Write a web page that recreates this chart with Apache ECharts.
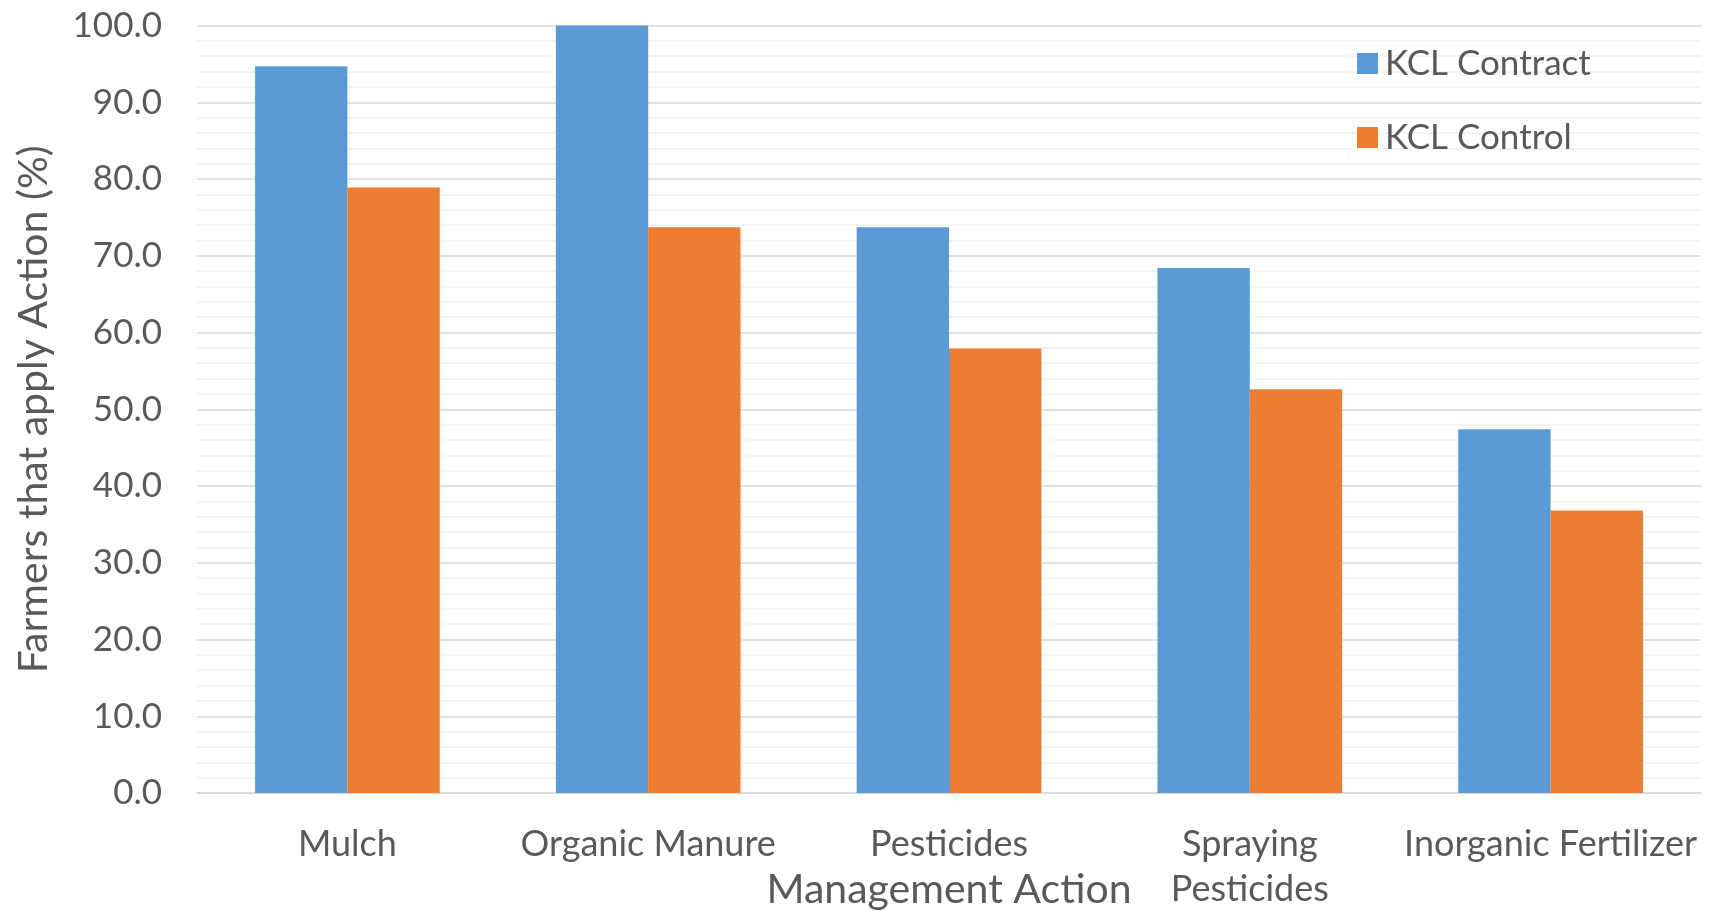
<!DOCTYPE html>
<html>
<head>
<meta charset="utf-8">
<title>Management Action</title>
<script src="https://cdn.jsdelivr.net/npm/echarts@6/dist/echarts.min.js"></script>
<style>
  html, body { margin: 0; padding: 0; background: #ffffff; }
  #chart { width: 1719px; height: 911px; }
</style>
</head>
<body>
<div id="chart"></div>
<script>
// Management actions on the category axis
const categories = ['Mulch', 'Organic Manure', 'Pesticides', 'Spraying\nPesticides', 'Inorganic Fertilizer'];

// Share of farmers (%) applying each action
const contractValues = [94.7, 100.0, 73.7, 68.4, 47.4];
const controlValues = [78.9, 73.7, 57.9, 52.6, 36.8];

const seriesNames = ['KCL Contract', 'KCL Control'];
const seriesColors = ['#5B9BD5', '#ED7D31'];

const FONT = 'Lato, "Open Sans", sans-serif';
const TEXT = '#595959';

const chart = echarts.init(document.getElementById('chart'), null, { renderer: 'canvas' });

chart.setOption({
  animation: false,
  backgroundColor: '#ffffff',
  textStyle: { fontFamily: FONT, color: TEXT },
  grid: { left: 197, right: 18, top: 25.5, bottom: 118, containLabel: false, outerBoundsMode: 'none' },
  legend: {
    orient: 'vertical',
    left: 1352,
    top: 41,
    itemWidth: 21,
    itemHeight: 21,
    itemGap: 39,
    icon: 'rect',
    data: seriesNames,
    textStyle: { fontFamily: FONT, fontSize: 35, color: TEXT, padding: [0, 0, 0, 2] }
  },
  xAxis: {
    type: 'category',
    data: categories,
    name: 'Management Action',
    nameLocation: 'middle',
    nameGap: 76,
    nameMoveOverlap: false,
    nameTextStyle: { fontFamily: FONT, fontSize: 41, color: TEXT },
    axisLine: { show: true, lineStyle: { color: '#d9d9d9', width: 1.5 } },
    axisTick: { show: false },
    axisLabel: {
      interval: 0,
      margin: 29,
      fontFamily: FONT,
      fontSize: 36,
      lineHeight: 45,
      color: TEXT
    },
    splitLine: { show: false }
  },
  yAxis: {
    type: 'value',
    min: 0,
    max: 100,
    interval: 10,
    name: 'Farmers that apply Action (%)',
    nameLocation: 'middle',
    nameRotate: 90,
    nameGap: 143,
    nameMoveOverlap: false,
    nameTextStyle: { fontFamily: FONT, fontSize: 41, color: TEXT },
    axisLine: { show: false },
    axisTick: { show: false },
    axisLabel: {
      margin: 35,
      fontFamily: FONT,
      fontSize: 35,
      color: TEXT,
      formatter: v => v.toFixed(1)
    },
    splitLine: { show: true, lineStyle: { color: '#d9d9d9', width: 1.5 } },
    minorTick: { show: false, splitNumber: 5 },
    minorSplitLine: { show: true, lineStyle: { color: '#f1f1f1', width: 1.5 } }
  },
  series: [
    {
      name: seriesNames[0],
      type: 'bar',
      data: contractValues,
      itemStyle: { color: seriesColors[0] },
      barGap: '0%',
      barCategoryGap: '38.6%'
    },
    {
      name: seriesNames[1],
      type: 'bar',
      data: controlValues,
      itemStyle: { color: seriesColors[1] },
      barGap: '0%',
      barCategoryGap: '38.6%'
    }
  ]
});
</script>
</body>
</html>
